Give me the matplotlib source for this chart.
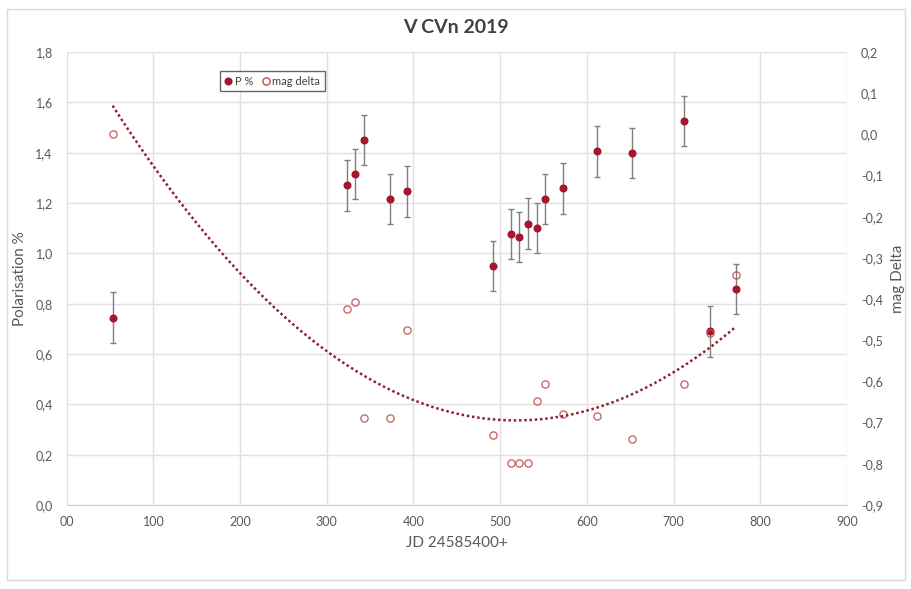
import matplotlib
matplotlib.use("Agg")
import matplotlib.pyplot as plt
from matplotlib.lines import Line2D
from matplotlib.ticker import FuncFormatter, MultipleLocator
import numpy as np

# values
jd = [53, 323, 333, 343, 373, 393, 492, 512, 522, 532, 542, 552, 572, 612, 652, 712, 742, 772]
pol = [0.745, 1.270, 1.316, 1.451, 1.215, 1.246, 0.949, 1.077, 1.066, 1.118, 1.102,
       1.215, 1.258, 1.405, 1.400, 1.525, 0.690, 0.857]
pol_err = [0.1] * len(jd)
mag = [0.0, -0.423, -0.406, -0.688, -0.688, -0.474, -0.730, -0.798, -0.798, -0.799,
       -0.647, -0.605, -0.680, -0.685, -0.740, -0.607, -0.483, -0.341]

plt.rcParams.update({"font.family": ["Lato", "DejaVu Sans"], "font.size": 9})
tick_col = "#595959"
grid_col = "#E0E0E0"
p_col = "#A5162F"
m_col = "#C0504D"

fig = plt.figure(figsize=(9.11, 5.89), dpi=100)
ax = fig.add_axes([0.0732, 0.1426, 0.8565, 0.7691])
ax2 = ax.twinx()

# polarisation with error bars
ax.errorbar(jd, pol, yerr=pol_err, fmt="o", color=p_col, ms=4.8,
            ecolor="#7F7F7F", elinewidth=1.0, capsize=2.5, capthick=1.0, zorder=3)

# mag delta + 2nd order polynomial trend
ax2.plot(jd, mag, "o", mfc="none", mec=m_col, mew=1.0, ms=5.2, alpha=0.85)
coef = np.polyfit(jd, mag, 2)
xs = np.linspace(min(jd), max(jd), 200)
ax2.plot(xs, np.polyval(coef, xs), ls=(0, (1, 1.1)), color="#8E2035", lw=1.8)

ax.set_xlim(0, 900)
ax.set_ylim(0, 1.8)
ax2.set_ylim(-0.9, 0.2)
ax.xaxis.set_major_locator(MultipleLocator(100))
ax.yaxis.set_major_locator(MultipleLocator(0.2))
ax2.yaxis.set_major_locator(MultipleLocator(0.1))

ax.xaxis.set_major_formatter(FuncFormatter(lambda v, p: "00" if v == 0 else "%d" % v))
comma = FuncFormatter(lambda v, p: ("%.1f" % (0 if abs(v) < 1e-9 else v)).replace(".", ","))
ax.yaxis.set_major_formatter(comma)
ax2.yaxis.set_major_formatter(comma)

ax.grid(True, color=grid_col, lw=1)
ax.set_axisbelow(True)
for a in (ax, ax2):
    for s in a.spines.values():
        s.set_visible(False)
    a.tick_params(length=0, colors=tick_col, labelsize=9)
ax.spines["bottom"].set_visible(True)
ax.spines["bottom"].set_color("#D0D0D0")
ax.tick_params(axis="y", pad=10)
ax2.tick_params(axis="y", pad=10)
ax.tick_params(axis="x", pad=8)

ax.set_xlabel("JD 24585400+", color=tick_col, fontsize=11, labelpad=6)
ax.set_ylabel("Polarisation %", color=tick_col, fontsize=11, labelpad=6)
ax2.set_ylabel("mag Delta", color=tick_col, fontsize=11, labelpad=6)
fig.text(0.5, 0.953, "V CVn 2019", ha="center", va="center", fontsize=14,
         fontweight="bold", color="#404040")

handles = [Line2D([], [], ls="none", marker="o", color=p_col, ms=4.8),
           Line2D([], [], ls="none", marker="o", mfc="none", mec=m_col, ms=5.2)]
leg = ax.legend(handles, ["P %", "mag delta"], ncol=2, loc="upper left",
                bbox_to_anchor=(0.19, 0.97), fontsize=8, frameon=True,
                fancybox=False, edgecolor="#404040", handlelength=0.6,
                handletextpad=0.3, columnspacing=0.8, borderpad=0.4)
leg.get_frame().set_linewidth(1.0)
for t in leg.get_texts():
    t.set_color("#404040")

# outer chart border
fig.patches.append(plt.Rectangle((0.008, 0.015), 0.985, 0.97, transform=fig.transFigure,
                                 fill=False, edgecolor="#D9D9D9", lw=1))

fig.savefig("out.png", dpi=100)
